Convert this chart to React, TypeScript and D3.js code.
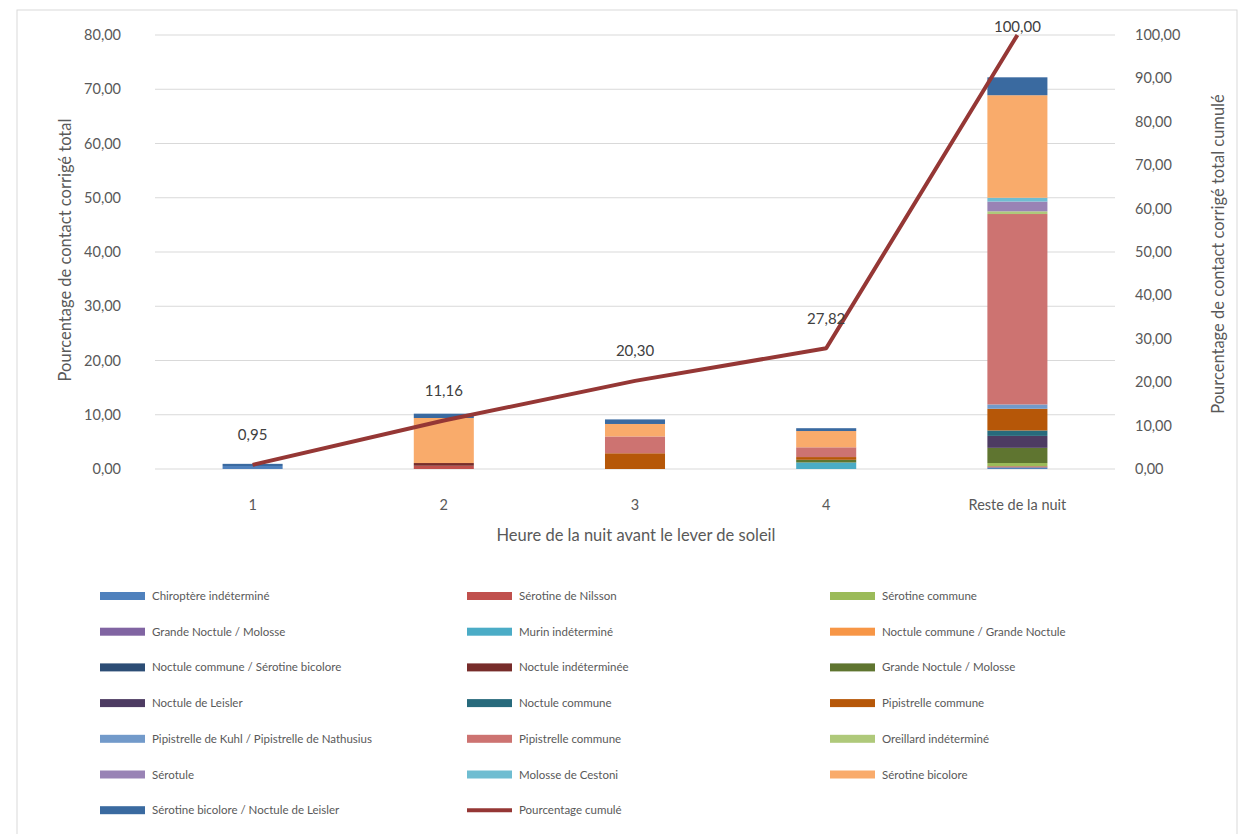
import React from "react";
import * as d3 from "d3";

const categories = ["1", "2", "3", "4", "Reste de la nuit"];

const seriesNames = [
  "Chiroptère indéterminé",
  "Sérotine de Nilsson",
  "Sérotine commune",
  "Grande Noctule / Molosse",
  "Murin indéterminé",
  "Noctule commune / Grande Noctule",
  "Noctule commune / Sérotine bicolore",
  "Noctule indéterminée",
  "Grande Noctule / Molosse",
  "Noctule de Leisler",
  "Noctule commune",
  "Pipistrelle commune",
  "Pipistrelle de Kuhl / Pipistrelle de Nathusius",
  "Pipistrelle commune",
  "Oreillard indéterminé",
  "Sérotule",
  "Molosse de Cestoni",
  "Sérotine bicolore",
  "Sérotine bicolore / Noctule de Leisler",
];

const seriesColors = [
  "#4F81BD", "#C0504D", "#9BBB59", "#8064A2", "#4BACC6", "#F79646",
  "#2C4D75", "#772C2A", "#5F7530", "#4D3B62", "#276A7C", "#B65708",
  "#729ACA", "#CD7371", "#AFC97A", "#9983B5", "#6FBDD1", "#F9AB6B",
  "#3A6AA0",
];

// values per series, for categories [1, 2, 3, 4, Reste]
const seriesValues: number[][] = [
  [0.55, 0, 0, 0, 0.3],
  [0, 0.6, 0, 0, 0.2],
  [0, 0, 0, 0, 0.6],
  [0, 0, 0, 0, 0],
  [0, 0, 0, 1.2, 0],
  [0, 0, 0, 0, 0],
  [0, 0, 0, 0, 0],
  [0, 0.5, 0, 0, 0],
  [0, 0, 0, 0.5, 2.8],
  [0, 0, 0, 0, 2.2],
  [0, 0, 0, 0, 1.0],
  [0, 0, 2.9, 0.5, 4.0],
  [0, 0, 0, 0, 0.8],
  [0, 0, 3.1, 1.8, 35.1],
  [0, 0, 0, 0, 0.5],
  [0, 0, 0, 0, 1.8],
  [0, 0, 0, 0, 0.7],
  [0, 8.3, 2.3, 3.0, 18.9],
  [0.4, 0.8, 0.84, 0.52, 3.3],
];

const cumulative = [0.95, 11.16, 20.3, 27.82, 100.0];

const leftTicks = [0, 10, 20, 30, 40, 50, 60, 70, 80];
const rightTicks = [0, 10, 20, 30, 40, 50, 60, 70, 80, 90, 100];

const lineName = "Pourcentage cumulé";
const lineColor = "#953735";

const FONT = "Lato, 'Open Sans', sans-serif";
const TEXT = "#595959";

const fmt = (v: number) => d3.format(".2f")(v).replace(".", ",");

export default function App() {
  const W = 1250, H = 834;
  const left = 157, right = 1113, top = 35, bottom = 469;

  const x = d3.scaleBand<string>().domain(categories).range([left, right]).paddingInner(0.686).paddingOuter(0.343);
  const yL = d3.scaleLinear().domain([0, 80]).range([bottom, top]);
  const yR = d3.scaleLinear().domain([0, 100]).range([bottom, top]);

  const rows = categories.map((c, i) => {
    const r: any = { cat: c };
    seriesValues.forEach((s, k) => (r["s" + k] = s[i]));
    return r;
  });
  const keys = seriesValues.map((_, k) => "s" + k);
  const stacked = d3.stack<any>().keys(keys)(rows);

  const line = d3
    .line<number>()
    .x((_, i) => (x(categories[i]) as number) + x.bandwidth() / 2)
    .y((d) => yR(d));

  // legend items
  const legendItems = seriesNames.map((n, i) => ({ name: n, color: seriesColors[i], type: "rect" }));
  legendItems.push({ name: lineName, color: lineColor, type: "line" });
  const colX = [100, 467, 830];
  const rowY0 = 596, rowStep = 35.7;

  return (
    <svg width={W} height={H} style={{ position: "absolute", left: 0, top: 0, background: "#fff" }} fontFamily={FONT}>
      <rect x={17} y={10} width={1220} height={830} fill="#fff" stroke="#D9D9D9" strokeWidth={1} />
      {/* gridlines */}
      {leftTicks.map((t) => (
        <line key={"g" + t} x1={left - 2} x2={right + 2} y1={yL(t)} y2={yL(t)} stroke="#D9D9D9" strokeWidth={1} />
      ))}
      {/* left ticks */}
      {leftTicks.map((t) => (
        <text key={"l" + t} x={121} y={yL(t)} dy="0.35em" textAnchor="end" fontSize={14.5} fill={TEXT}>
          {fmt(t)}
        </text>
      ))}
      {/* right ticks */}
      {rightTicks.map((t) => (
        <text key={"r" + t} x={1135} y={yR(t)} dy="0.35em" textAnchor="start" fontSize={14.5} fill={TEXT}>
          {fmt(t)}
        </text>
      ))}
      {/* bars */}
      {stacked.map((layer, k) => (
        <g key={"layer" + k} fill={seriesColors[k]}>
          {layer.map((d, i) =>
            d[1] - d[0] > 0 ? (
              <rect
                key={i}
                x={x(categories[i])}
                width={x.bandwidth()}
                y={yL(d[1])}
                height={yL(d[0]) - yL(d[1])}
              />
            ) : null
          )}
        </g>
      ))}
      {/* cumulative line */}
      <path d={line(cumulative) || ""} fill="none" stroke={lineColor} strokeWidth={4} strokeLinejoin="round" />
      {cumulative.map((v, i) => {
        const cx = (x(categories[i]) as number) + x.bandwidth() / 2;
        const cy = Math.max(yR(v) - 30, 27);
        return (
          <text key={"lab" + i} x={cx} y={cy} dy="0.35em" textAnchor="middle" fontSize={15} fill="#404040">
            {fmt(v)}
          </text>
        );
      })}
      {/* category labels */}
      {categories.map((c) => (
        <text key={"c" + c} x={(x(c) as number) + x.bandwidth() / 2} y={505} dy="0.35em" textAnchor="middle" fontSize={14.5} fill={TEXT}>
          {c}
        </text>
      ))}
      {/* axis titles */}
      <text x={636} y={535} dy="0.35em" textAnchor="middle" fontSize={16.5} fill={TEXT}>
        Heure de la nuit avant le lever de soleil
      </text>
      <text transform={`translate(65,250) rotate(-90)`} dy="0.35em" textAnchor="middle" fontSize={16.5} fill={TEXT}>
        Pourcentage de contact corrigé total
      </text>
      <text transform={`translate(1218,254) rotate(-90)`} dy="0.35em" textAnchor="middle" fontSize={16.5} fill={TEXT}>
        Pourcentage de contact corrigé total cumulé
      </text>
      {/* legend */}
      {legendItems.map((it, i) => {
        const cx = colX[i % 3];
        const cy = rowY0 + Math.floor(i / 3) * rowStep;
        return (
          <g key={"leg" + i}>
            {it.type === "rect" ? (
              <rect x={cx} y={cy - 4} width={45} height={8} fill={it.color} />
            ) : (
              <line x1={cx} x2={cx + 45} y1={cy} y2={cy} stroke={it.color} strokeWidth={4} />
            )}
            <text x={cx + 52} y={cy} dy="0.35em" fontSize={11.5} fill={TEXT}>
              {it.name}
            </text>
          </g>
        );
      })}
    </svg>
  );
}
